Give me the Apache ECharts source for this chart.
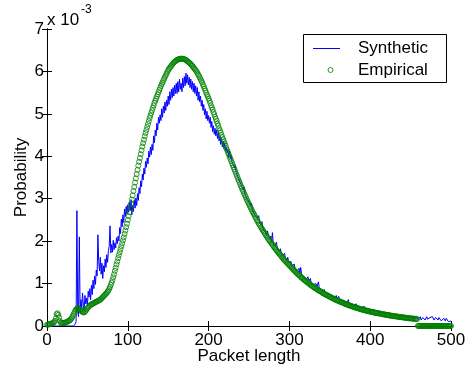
<!DOCTYPE html>
<html><head><meta charset="utf-8">
<script src="https://cdn.jsdelivr.net/npm/echarts@6/dist/echarts.min.js"></script>
<style>html,body{margin:0;padding:0;background:#fff}#c{width:470px;height:371px}</style>
</head><body><div id="c"></div>
<script>
// Values in units of 1e-3 (axis carries the "x 10^-3" multiplier)
const xTicks = [0, 100, 200, 300, 400, 500];
const yTicks = [0, 1, 2, 3, 4, 5, 6, 7];
const seriesNames = ['Synthetic', 'Empirical'];

const empirical = [
0.03,0.03,0.04,0.04,0.05,0.05,0.06,0.07,0.08,0.10,
0.12,0.18,0.28,0.30,0.26,0.20,0.12,0.08,0.07,0.07,
0.07,0.07,0.08,0.08,0.09,0.10,0.11,0.12,0.13,0.15,
0.17,0.20,0.24,0.28,0.32,0.36,0.39,0.41,0.42,0.42,
0.41,0.39,0.37,0.35,0.33,0.32,0.32,0.34,0.36,0.39,
0.42,0.44,0.46,0.48,0.50,0.51,0.52,0.53,0.54,0.55,
0.56,0.57,0.58,0.59,0.60,0.61,0.62,0.64,0.66,0.68,
0.70,0.72,0.74,0.76,0.78,0.81,0.84,0.88,0.92,0.97,
1.02,1.08,1.15,1.22,1.30,1.37,1.45,1.52,1.60,1.67,
1.74,1.81,1.88,1.95,2.02,2.09,2.17,2.25,2.33,2.41,
2.50,2.59,2.68,2.78,2.88,2.98,3.08,3.18,3.28,3.38,
3.48,3.58,3.68,3.78,3.87,3.96,4.05,4.14,4.23,4.31,
4.39,4.47,4.55,4.62,4.69,4.76,4.83,4.90,4.96,5.02,
5.08,5.14,5.20,5.26,5.31,5.36,5.41,5.46,5.51,5.56,
5.61,5.66,5.70,5.74,5.79,5.83,5.87,5.91,5.95,5.99,
6.03,6.06,6.09,6.11,6.14,6.16,6.19,6.21,6.23,6.24,
6.26,6.27,6.28,6.29,6.29,6.30,6.30,6.30,6.30,6.29,
6.29,6.28,6.27,6.25,6.24,6.22,6.21,6.19,6.17,6.15,
6.13,6.10,6.08,6.05,6.03,6.00,5.97,5.93,5.90,5.86,
5.82,5.78,5.74,5.69,5.65,5.60,5.55,5.50,5.45,5.41,
5.36,5.31,5.26,5.20,5.15,5.10,5.04,4.99,4.93,4.88,
4.83,4.77,4.72,4.66,4.61,4.56,4.50,4.45,4.40,4.35,
4.30,4.25,4.19,4.14,4.09,4.04,3.99,3.94,3.89,3.84,
3.79,3.74,3.69,3.64,3.59,3.54,3.49,3.44,3.40,3.35,
3.30,3.26,3.21,3.17,3.12,3.08,3.04,2.99,2.95,2.91,
2.87,2.83,2.79,2.75,2.71,2.67,2.64,2.60,2.56,2.53,
2.49,2.46,2.42,2.39,2.36,2.32,2.29,2.26,2.23,2.20,
2.17,2.14,2.11,2.08,2.05,2.02,2.00,1.97,1.94,1.92,
1.89,1.86,1.84,1.81,1.79,1.76,1.74,1.71,1.69,1.67,
1.64,1.62,1.60,1.57,1.55,1.53,1.51,1.49,1.47,1.45,
1.43,1.41,1.39,1.37,1.35,1.33,1.31,1.29,1.27,1.25,
1.23,1.21,1.20,1.18,1.16,1.14,1.13,1.11,1.09,1.08,
1.06,1.05,1.03,1.02,1.00,0.99,0.97,0.96,0.94,0.93,
0.92,0.90,0.89,0.88,0.87,0.85,0.84,0.83,0.82,0.81,
0.80,0.78,0.77,0.76,0.75,0.74,0.73,0.72,0.71,0.70,
0.69,0.68,0.67,0.66,0.65,0.64,0.63,0.62,0.61,0.60,
0.60,0.59,0.58,0.57,0.56,0.56,0.55,0.54,0.53,0.52,
0.52,0.51,0.50,0.49,0.49,0.48,0.47,0.47,0.46,0.45,
0.45,0.44,0.43,0.43,0.42,0.42,0.41,0.40,0.40,0.39,
0.39,0.38,0.38,0.37,0.37,0.36,0.36,0.35,0.35,0.34,
0.34,0.34,0.33,0.33,0.32,0.32,0.31,0.31,0.31,0.30,
0.30,0.30,0.29,0.29,0.28,0.28,0.28,0.27,0.27,0.27,
0.26,0.26,0.26,0.25,0.25,0.25,0.24,0.24,0.24,0.23,
0.23,0.23,0.23,0.22,0.22,0.22,0.21,0.21,0.21,0.21,
0.20,0.20,0.20,0.20,0.19,0.19,0.19,0.19,0.18,0.18,
0.18,0.18,0.18,0.17,0.17,0.17,0.17,0.17,0.16,0,
0,0,0,0,0,0,0,0,0,0,
0,0,0,0,0,0,0,0,0,0,
0,0,0,0,0,0,0,0,0,0,
0,0,0,0,0,0,0,0,0,0,
0
];

const synthetic = [
0,0,0,0,0,0,0,0,0,0,
0,0,0,0,0,0,0,0,0,0,
0,0,0,0,0,0,0,0,0,0,
0,0,0,0,0.02,0.05,
0.10,2.72,0.35,0.22,2.10,0.30,0.62,0.42,0.78,0.48,0.38,0.72,0.52,0.66,
0.48,0.82,0.68,0.88,0.62,0.96,0.74,1.08,0.88,1.18,
0.98,1.32,1.18,2.15,1.52,1.30,1.62,1.22,1.48,1.12,
1.42,1.28,1.58,1.38,1.68,1.50,1.78,1.88,2.36,1.72,
1.92,1.74,2.02,1.80,1.96,1.84,2.08,1.94,2.12,2.00,
2.32,2.18,2.52,2.34,2.62,2.44,2.76,2.58,2.82,2.64,
2.86,2.68,2.92,2.72,2.98,2.62,2.84,2.70,2.96,2.78,
3.02,2.84,3.12,2.96,3.26,3.12,3.42,3.28,3.58,3.44,
3.72,3.58,3.88,3.74,3.96,3.82,4.12,3.98,4.22,4.04,
4.28,4.14,4.48,4.32,4.62,4.48,4.78,4.62,4.92,4.78,
4.98,4.84,5.12,4.92,5.18,5.02,5.28,5.08,5.32,5.18,
5.42,5.22,5.52,5.32,5.58,5.38,5.62,5.42,5.68,5.48,
5.72,5.48,5.76,5.52,5.82,5.58,5.72,5.52,5.84,5.62,
5.88,5.66,5.96,5.72,5.92,5.68,5.86,5.62,5.82,5.58,
5.76,5.52,5.72,5.48,5.66,5.42,5.62,5.32,5.52,5.28,
5.42,5.18,5.32,5.08,5.22,4.98,5.12,4.88,5.06,4.84,
4.96,4.78,4.92,4.68,4.82,4.58,4.72,4.52,4.66,4.48,
4.62,4.42,4.56,4.36,4.48,4.28,4.42,4.22,4.36,4.18,
4.32,4.12,4.22,4.08,4.16,3.98,4.12,3.94,4.02,3.86,
3.84,3.78,3.72,3.80,3.62,3.58,3.66,3.48,3.44,3.52,
3.34,3.38,3.25,3.20,3.28,3.10,3.08,3.14,2.98,2.96,
2.92,2.88,2.84,2.90,2.74,2.72,2.78,2.62,2.60,2.66,
2.54,2.50,2.60,2.44,2.40,2.38,2.46,2.30,2.28,2.34,
2.22,2.18,2.14,2.24,2.10,2.06,2.04,2.12,1.98,2.20,
1.94,1.92,1.88,1.86,1.98,1.82,1.80,1.78,1.76,1.82,
1.70,1.68,1.64,1.62,1.72,1.60,1.56,1.54,1.62,1.50,
1.48,1.46,1.52,1.42,1.40,1.38,1.46,1.34,1.32,1.30,
1.30,1.28,1.36,1.24,1.38,1.22,1.20,1.24,1.14,1.12,
1.12,1.10,1.08,1.16,1.06,1.04,1.12,1.00,0.98,0.98,
0.98,0.96,0.94,1.00,0.92,0.90,1.04,0.88,0.86,0.90,
0.86,0.84,0.80,0.86,0.80,0.78,0.84,0.76,0.74,0.78,
0.74,0.72,0.78,0.70,0.68,0.74,0.66,0.66,0.72,0.64,
0.64,0.70,0.62,0.60,0.66,0.60,0.58,0.64,0.56,0.56,
0.58,0.56,0.54,0.62,0.52,0.52,0.56,0.50,0.50,0.48,
0.50,0.48,0.46,0.52,0.46,0.44,0.50,0.44,0.42,0.46,
0.44,0.42,0.40,0.46,0.40,0.40,0.38,0.42,0.38,0.36,
0.38,0.40,0.36,0.36,0.34,0.38,0.34,0.34,0.36,0.32,
0.34,0.32,0.34,0.30,0.30,0.32,0.30,0.30,0.28,0.32,
0.30,0.28,0.28,0.32,0.26,0.26,0.28,0.26,0.24,0.28,
0.26,0.24,0.28,0.24,0.24,0.26,0.22,0.22,0.24,0.22,
0.24,0.22,0.26,0.22,0.22,0.20,0.22,0.24,0.20,0.20,
0.22,0.20,0.20,0.22,0.18,0.20,0.22,0.18,0.18,0.20,
0.16,0.18,0.22,0.14,0.18,0.20,0.16,0.20,0.14,0.18,
0.22,0.16,0.18,0.14,0.20,0.18,0.16,0.22,0.18,0.14,
0.18,0.20,0.16,0.18,0.14,0.20,0.16,0.18,0.12,0.16,
0.14,0.18,0.16,0.12,0.18,0.14,0.16,0.10,0.14,0.12,
0.12
];

const FONT = '"Liberation Sans", Arial, Helvetica, sans-serif';
const toPairs = arr => arr.map((v, i) => [i, v]);

const chart = echarts.init(document.getElementById('c'), null, {renderer: 'canvas'});

const axisCommon = {
  min: 0,
  axisLine: {show: true, lineStyle: {color: '#000', width: 1}},
  axisTick: {show: true, inside: true, length: 5, lineStyle: {color: '#000', width: 1}},
  splitLine: {show: false}
};

chart.setOption({
  animation: false,
  backgroundColor: '#fff',
  grid: {left: 47, right: 19, top: 29, bottom: 45, containLabel: false, outerBoundsMode: 'none'},
  xAxis: [
    Object.assign({}, axisCommon, {
      type: 'value', position: 'bottom', max: xTicks[xTicks.length - 1], interval: xTicks[1] - xTicks[0],
      name: 'Packet length', nameLocation: 'middle', nameGap: 22, nameMoveOverlap: false,
      nameTextStyle: {fontSize: 17, fontFamily: FONT, color: '#000'},
      axisLabel: {fontSize: 17, fontFamily: FONT, color: '#000', margin: 6}
    }),
    Object.assign({}, axisCommon, {
      type: 'value', position: 'top', max: xTicks[xTicks.length - 1], interval: xTicks[1] - xTicks[0],
      axisLabel: {show: false}
    })
  ],
  yAxis: [
    Object.assign({}, axisCommon, {
      type: 'value', position: 'left', max: yTicks[yTicks.length - 1], interval: yTicks[1] - yTicks[0],
      name: 'Probability', nameLocation: 'middle', nameGap: 17, nameMoveOverlap: false,
      nameTextStyle: {fontSize: 17, fontFamily: FONT, color: '#000'},
      axisLabel: {fontSize: 17, fontFamily: FONT, color: '#000', margin: 3}
    }),
    Object.assign({}, axisCommon, {
      type: 'value', position: 'right', max: yTicks[yTicks.length - 1], interval: yTicks[1] - yTicks[0],
      axisLabel: {show: false}
    })
  ],
  legend: [
    {
      data: [{name: seriesNames[0], icon: 'rect'}],
      left: 313, top: 40, padding: 0, itemWidth: 27, itemHeight: 1, selectedMode: false,
      textStyle: {fontSize: 17, fontFamily: FONT, color: '#000', padding: [0, 0, 0, 13]}
    },
    {
      data: [{name: seriesNames[1], icon: 'circle', itemStyle: {color: '#fff', borderColor: '#008000', borderWidth: 1}}],
      left: 327.5, top: 61.5, padding: 0, itemWidth: 5, itemHeight: 5, selectedMode: false,
      textStyle: {fontSize: 17, fontFamily: FONT, color: '#000', padding: [0, 0, 0, 20]}
    }
  ],
  graphic: [
    {type: 'rect', shape: {x: 303.5, y: 34.5, width: 143, height: 48}, style: {fill: '#fff', stroke: '#000', lineWidth: 1}, z: 3},
    {type: 'text', left: 47, top: 12, style: {text: 'x 10', font: '17px ' + FONT, fill: '#000'}},
    {type: 'text', left: 81, top: 4, style: {text: '-3', font: '12px ' + FONT, fill: '#000'}}
  ],
  series: [
    {
      name: seriesNames[0], type: 'line', xAxisIndex: 0, yAxisIndex: 0,
      data: toPairs(synthetic), symbol: 'none', clip: true,
      lineStyle: {color: '#0000ff', width: 1}, itemStyle: {color: '#0000ff'}, z: 2
    },
    {
      name: seriesNames[1], type: 'scatter', xAxisIndex: 0, yAxisIndex: 0,
      data: toPairs(empirical), symbol: 'circle', symbolSize: 5, clip: false,
      itemStyle: {color: 'rgba(0,0,0,0)', borderColor: '#008000', borderWidth: 1}, z: 3
    }
  ]
});
</script></body></html>
